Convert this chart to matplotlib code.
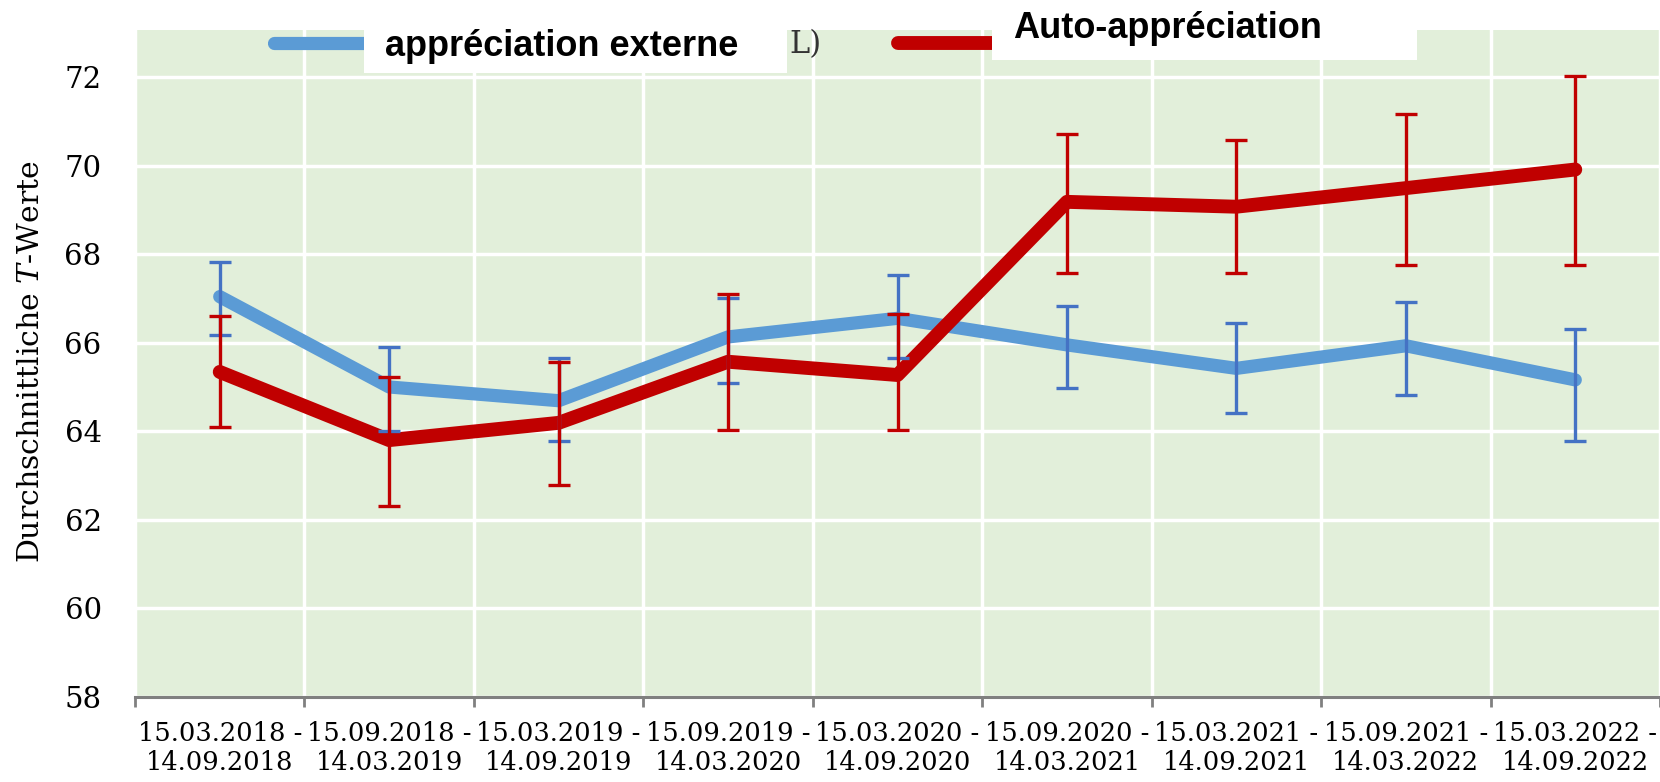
import matplotlib
matplotlib.use("Agg")
import matplotlib.pyplot as plt
from matplotlib.lines import Line2D
from matplotlib.patches import Rectangle
import numpy as np

# ---------------- data ----------------
periods = ["15.03.2018 -\n14.09.2018", "15.09.2018 -\n14.03.2019",
           "15.03.2019 -\n14.09.2019", "15.09.2019 -\n14.03.2020",
           "15.03.2020 -\n14.09.2020", "15.09.2020 -\n14.03.2021",
           "15.03.2021 -\n14.09.2021", "15.09.2021 -\n14.03.2022",
           "15.03.2022 -\n14.09.2022"]

ext_mean = [67.04, 65.00, 64.69, 66.13, 66.55, 65.95, 65.42, 65.93, 65.16]
ext_hi   = [67.83, 65.91, 65.66, 67.02, 67.53, 66.83, 66.44, 66.91, 66.31]
ext_lo   = [66.17, 64.01, 63.79, 65.08, 65.65, 64.97, 64.41, 64.83, 63.79]

self_mean = [65.34, 63.80, 64.19, 65.57, 65.27, 69.18, 69.07, 69.49, 69.91]
self_hi   = [66.61, 65.22, 65.57, 67.09, 66.64, 70.71, 70.58, 71.16, 72.02]
self_lo   = [64.09, 62.31, 62.79, 64.03, 64.03, 67.57, 67.57, 67.75, 67.75]

yticks = [58, 60, 62, 64, 66, 68, 70, 72]
label_ext = "appréciation externe"
label_self = "Auto-appréciation"
ylabel = r"Durchschnittliche $T$-Werte"

# ---------------- style ----------------
plt.rcParams['mathtext.fontset'] = 'dejavuserif'
W, H = 1660, 782
fig = plt.figure(figsize=(W / 100, H / 100), dpi=100)
ax = fig.add_axes([135 / W, 1 - 697 / H, 1 - 135 / W, (697 - 30) / H])

green = '#E2EFDA'
blue_line = '#5B9BD5'
blue_err = '#4472C4'
red = '#C00000'

ax.set_facecolor(green)
n = len(periods)
x = np.arange(n)

ax.plot(x, ext_mean, color=blue_line, lw=9.5, solid_capstyle='round',
        solid_joinstyle='round', zorder=3)
ax.plot(x, self_mean, color=red, lw=10, solid_capstyle='round',
        solid_joinstyle='round', zorder=4)

ext_yerr = [np.array(ext_mean) - np.array(ext_lo), np.array(ext_hi) - np.array(ext_mean)]
self_yerr = [np.array(self_mean) - np.array(self_lo), np.array(self_hi) - np.array(self_mean)]
ax.errorbar(x, ext_mean, yerr=ext_yerr, fmt='none', ecolor=blue_err,
            elinewidth=2.4, capsize=8, capthick=2.4, zorder=5)
ax.errorbar(x, self_mean, yerr=self_yerr, fmt='none', ecolor=red,
            elinewidth=2.4, capsize=8, capthick=2.4, zorder=6)

ax.set_xlim(-0.5, n - 0.5)
ax.set_ylim(58, 73.06)

# grid
ax.set_yticks(yticks)
ax.set_xticks(np.arange(-0.5, n, 1.0))
ax.set_xticks(x, minor=True)
ax.set_xticklabels([])
ax.set_xticklabels(periods, minor=True, fontsize=18.5, family='DejaVu Serif',
                   linespacing=1.2)
ax.grid(True, which='major', color='white', lw=2.5)
ax.set_axisbelow(True)

ax.tick_params(axis='x', which='major', length=7.5, width=2, color='#808080',
               direction='out')
ax.tick_params(axis='x', which='minor', length=0, pad=17)
ax.tick_params(axis='y', length=0, pad=24, labelsize=21)
for lab in ax.get_yticklabels():
    lab.set_family('DejaVu Serif')

for s in ['left', 'top', 'right']:
    ax.spines[s].set_visible(False)
ax.spines['bottom'].set_color('#808080')
ax.spines['bottom'].set_linewidth(2.2)
ax.spines['bottom'].set_zorder(7)

fig.text(31 / W, 1 - 362 / H, ylabel, rotation=90, ha='center', va='center',
         fontsize=21.5, family='DejaVu Serif')

# ---------------- legend (overlaid boxes) ----------------
fig.add_artist(Line2D([274 / W, 380 / W], [1 - 43 / H, 1 - 43 / H], color=blue_line,
                      lw=9.5, solid_capstyle='round', transform=fig.transFigure, zorder=10))
fig.add_artist(Rectangle((364 / W, 1 - 73 / H), (787 - 364) / W, 73 / H, facecolor='white',
                         edgecolor='none', transform=fig.transFigure, zorder=11))
fig.text(385 / W, 1 - 47 / H, label_ext, fontsize=26, fontweight='bold',
         family='Liberation Sans', ha='left', va='center', zorder=12)
fig.text(789 / W, 1 - 45 / H, "L)", fontsize=22, family='DejaVu Serif',
         color='#333333', ha='left', va='center', zorder=12)

fig.add_artist(Line2D([898 / W, 1000 / W], [1 - 43 / H, 1 - 43 / H], color=red,
                      lw=10, solid_capstyle='round', transform=fig.transFigure, zorder=10))
fig.add_artist(Rectangle((992 / W, 1 - 60 / H), (1417 - 992) / W, 60 / H, facecolor='white',
                         edgecolor='none', transform=fig.transFigure, zorder=11))
fig.text(1013 / W, 1 - 28 / H, label_self, fontsize=26, fontweight='bold',
         family='Liberation Sans', ha='left', va='center', zorder=12)

fig.savefig('out.png', dpi=100)
